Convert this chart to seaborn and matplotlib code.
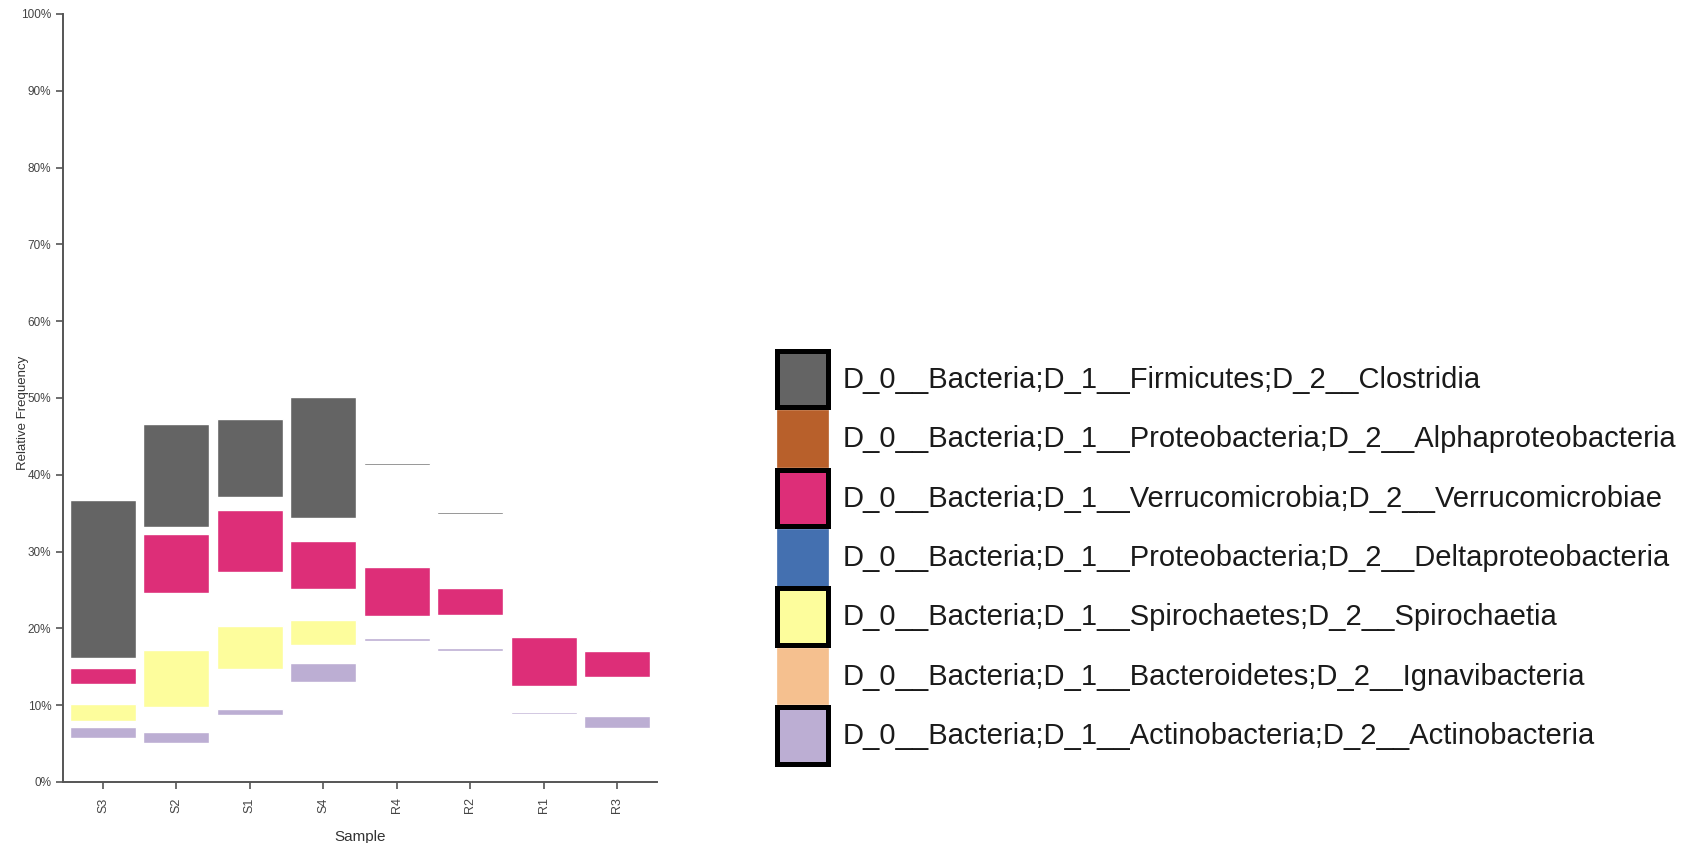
import numpy as np
import pandas as pd
import matplotlib
matplotlib.use("Agg")
import matplotlib.pyplot as plt
from matplotlib.patches import Patch
import seaborn as sns

# Samples in plotting order
samples = ["S3", "S2", "S1", "S4", "R4", "R2", "R1", "R3"]

# Relative frequency (%) per class, listed bottom-up in stacking order
other_below = [5.76, 5.03, 8.68, 12.97, 18.35, 17.00, 8.85, 7.03]
actinobacteria = [1.44, 1.48, 0.78, 2.56, 0.40, 0.40, 0.20, 1.51]
ignavibacteria = [0.69, 3.25, 5.25, 2.35, 0.00, 0.00, 0.00, 0.00]
spirochaetia = [2.30, 7.42, 5.64, 3.25, 0.00, 0.00, 0.00, 0.00]
deltaproteobacteria = [2.57, 7.47, 7.05, 4.00, 2.90, 4.30, 3.49, 5.13]
verrucomicrobiae = [2.08, 7.68, 8.05, 6.20, 6.34, 3.56, 6.34, 3.42]
alphaproteobacteria = [1.26, 0.87, 1.70, 3.04, 13.30, 9.70, 5.00, 7.70]
clostridia = [20.57, 13.41, 10.18, 15.71, 0.25, 0.25, 0.00, 0.12]

taxa_labels = [
    "D_0__Bacteria;D_1__Firmicutes;D_2__Clostridia",
    "D_0__Bacteria;D_1__Proteobacteria;D_2__Alphaproteobacteria",
    "D_0__Bacteria;D_1__Verrucomicrobia;D_2__Verrucomicrobiae",
    "D_0__Bacteria;D_1__Proteobacteria;D_2__Deltaproteobacteria",
    "D_0__Bacteria;D_1__Spirochaetes;D_2__Spirochaetia",
    "D_0__Bacteria;D_1__Bacteroidetes;D_2__Ignavibacteria",
    "D_0__Bacteria;D_1__Actinobacteria;D_2__Actinobacteria",
]
taxa_colors = ["#646464", "#b8602b", "#dd2e78", "#4470b0", "#fdfd9c", "#f5c08f", "#bcaed3"]
highlighted = [True, False, True, False, True, False, True]

# stacking order bottom-up (legend order reversed, plus unlabelled remainder below)
stack = [
    ("other", other_below, "white"),
    (taxa_labels[6], actinobacteria, taxa_colors[6]),
    (taxa_labels[5], ignavibacteria, taxa_colors[5]),
    (taxa_labels[4], spirochaetia, taxa_colors[4]),
    (taxa_labels[3], deltaproteobacteria, taxa_colors[3]),
    (taxa_labels[2], verrucomicrobiae, taxa_colors[2]),
    (taxa_labels[1], alphaproteobacteria, taxa_colors[1]),
    (taxa_labels[0], clostridia, taxa_colors[0]),
]
shown = {taxa_labels[i]: highlighted[i] for i in range(len(taxa_labels))}

rows = []
cum = np.zeros(len(samples))
for name, vals, col in stack:
    vals = np.asarray(vals, dtype=float)
    cum = cum + vals
    for s, v, c in zip(samples, vals, cum):
        rows.append({"Sample": s, "Taxon": name, "Frequency": v, "Top": c})
df = pd.DataFrame(rows)

sns.set_style("white")
plt.rcParams["font.family"] = ["Liberation Sans", "DejaVu Sans"]

fig = plt.figure(figsize=(17.01, 8.43), dpi=100)
ax = fig.add_axes([63 / 1701, 1 - 782 / 843, 594 / 1701, 768 / 843])

# draw cumulative tops from the highest layer down so each band shows its own colour
for name, vals, col in reversed(stack):
    face = col if shown.get(name, False) else "white"
    sub = df[df["Taxon"] == name]
    sns.barplot(data=sub, x="Sample", y="Top", order=samples, color=face,
                saturation=1, width=0.9, edgecolor="white", linewidth=1.0,
                errorbar=None, ax=ax)

ax.set_ylim(0, 100)
ax.set_xlim(-0.545, 7.545)
ax.set_yticks(np.arange(0, 101, 10))
ax.set_yticklabels([f"{v}%" for v in range(0, 101, 10)])
for side in ["top", "right"]:
    ax.spines[side].set_visible(False)
for side in ["left", "bottom"]:
    ax.spines[side].set_color("#555555")
    ax.spines[side].set_linewidth(1.4)
ax.tick_params(axis="both", which="both", direction="out", length=5, width=1.2,
               color="#555555", labelsize=8.5, labelcolor="#444444", left=True, bottom=True)
ax.tick_params(axis="x", labelrotation=90, pad=6, labelsize=9)
ax.set_xlabel("Sample", fontsize=11, color="#333333", labelpad=12)
ax.set_ylabel("Relative Frequency", fontsize=9.5, color="#333333")
ax.yaxis.set_label_coords(-0.058, 0.48)

# legend of the selected and unselected classes
handles = []
for lab, col, hi in zip(taxa_labels, taxa_colors, highlighted):
    if hi:
        handles.append(Patch(facecolor=col, edgecolor="black", linewidth=3.6, label=lab))
    else:
        handles.append(Patch(facecolor=col, edgecolor=col, linewidth=0.5, label=lab))
leg = fig.legend(handles=handles, loc="upper left",
                 bbox_to_anchor=(777 / 1701, 1 - 351 / 843), frameon=False,
                 prop={"family": ["Liberation Sans", "DejaVu Sans"], "size": 21},
                 handlelength=1.75, handleheight=2.6, labelspacing=0.1,
                 handletextpad=0.5, borderpad=0, borderaxespad=0)
for t in leg.get_texts():
    t.set_color("#1a1a1a")

fig.savefig("out.png", dpi=100, facecolor="white")
